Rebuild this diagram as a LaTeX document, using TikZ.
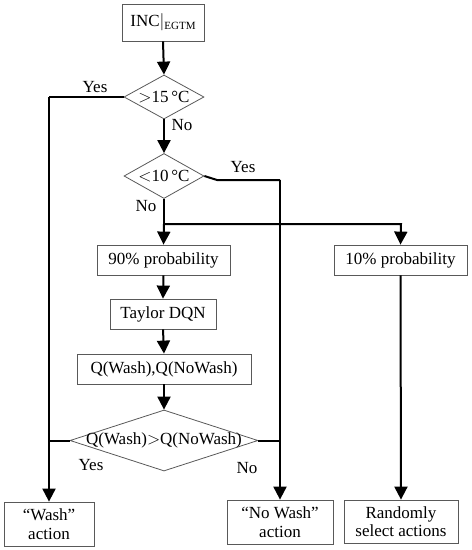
\documentclass[tikz,border=0pt]{standalone}
\usepackage{fontspec}
\setmainfont{Liberation Serif}
\usetikzlibrary{arrows.meta,shapes.geometric}
\begin{document}
\begin{tikzpicture}[x=1pt,y=-1pt,
  font=\fontsize{17}{18.5}\selectfont,
  box/.style={draw=black!65,line width=0.8pt,inner sep=0pt,align=center},
  dia/.style={draw=black!65,line width=0.8pt,diamond,inner sep=0pt,aspect=1.8},
  conn/.style={line width=2pt,black},
  arr/.style={conn,-{Triangle[width=13pt,length=13pt]}},
  lbl/.style={inner sep=0pt}]
\useasboundingbox (0,0) rectangle (472,550);
% boxes
\node[box,minimum width=82pt,minimum height=37pt] (inc) at (163,22.5) {INC$|$\raisebox{-2.5pt}{\fontsize{11}{11}\selectfont EGTM}};
\node[dia,minimum width=80pt,minimum height=44pt] (d1) at (164,97) {};
\node (t1) at (164,97) {$>$15\,°C};
\node[dia,minimum width=80pt,minimum height=45pt] (d2) at (164,176) {};
\node (t2) at (164,176) {$<$10\,°C};
\node[box,minimum width=133pt,minimum height=30pt] (p90) at (163.5,260) {90\% probability};
\node[box,minimum width=133pt,minimum height=30pt] (p10) at (400.5,260) {10\% probability};
\node[box,minimum width=106pt,minimum height=30pt] (tay) at (163,314) {Taylor DQN};
\node[box,minimum width=174pt,minimum height=30pt] (q) at (164,369) {Q(Wash),Q(NoWash)};
\node[dia,minimum width=188pt,minimum height=61pt] (d3) at (164,440.5) {};
\node (t3) at (164,440.5) {Q(Wash)$>$Q(NoWash)};
\node[box,minimum width=90pt,minimum height=44pt] (wash) at (49,524) {“Wash”\\action};
\node[box,minimum width=106pt,minimum height=44pt] (nowash) at (280,522) {“No Wash”\\action};
\node[box,minimum width=114pt,minimum height=43pt] (rand) at (401,521.5) {Randomly\\select actions};
% coordinates
\coordinate (c1) at (49,97);
\coordinate (c2a) at (217,180);
\coordinate (c2b) at (280,180);
\coordinate (split) at (164,224);
\coordinate (split2) at (401,224);
\coordinate (c3l) at (49,440.5);
\coordinate (c3r) at (280,440.5);
% connectors
\draw[arr] (inc.south) -- (d1.north);
\draw[arr] (d1.south) -- (d2.north);
\draw[conn] (d1.west) -- (c1);
\draw[arr] (c1) -- (wash.north);
\draw[conn] (d2.east) -- (c2a) -- (c2b);
\draw[arr] (c2b) -- (nowash.north);
\draw[conn] (d2.south) -- (split);
\draw[arr] (split) -- (p90.north);
\draw[arr] (split) -- (split2) -- (p10.north);
\draw[arr] (p90.south) -- (tay.north);
\draw[arr] (tay.south) -- (q.north);
\draw[arr] (q.south) -- (d3.north);
\draw[conn] (d3.west) -- (c3l);
\draw[conn] (d3.east) -- (c3r);
\draw[arr] (p10.south) -- (rand.north);
% labels
\node[lbl] (y1) at (95,87) {Yes};
\node[lbl] (n1) at (182,125) {No};
\node[lbl] (y2) at (243,167) {Yes};
\node[lbl] (n2) at (146,206) {No};
\node[lbl] (y3) at (91,465) {Yes};
\node[lbl] (n3) at (247,468) {No};
\end{tikzpicture}
\end{document}
